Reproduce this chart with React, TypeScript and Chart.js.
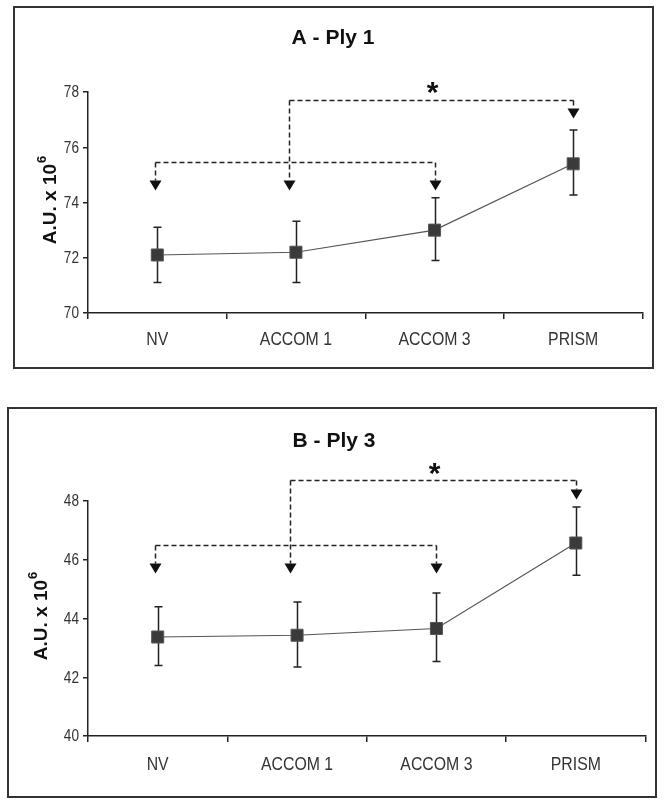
import React, { useEffect, useRef } from "react";
import { Chart, registerables } from "chart.js";

Chart.register(...registerables);

// ---------- data ----------
const categories = ["NV", "ACCOM 1", "ACCOM 3", "PRISM"];
const yTicksA = [70, 72, 74, 76, 78];
const yTicksB = [40, 42, 44, 46, 48];

const meansA = [72.1, 72.2, 73.0, 75.4];
const lowA = [71.1, 71.1, 71.9, 74.27];
const highA = [73.1, 73.32, 74.17, 76.62];

const meansB = [43.37, 43.43, 43.66, 46.57];
const lowB = [42.4, 42.35, 42.54, 45.47];
const highB = [44.4, 44.56, 44.87, 47.8];

// annotation brackets (category index positions, value levels)
const bracketIdx = { nv: -0.02, acc1: 0.95, acc3: 2.0, prism: 3.0, star: 1.98 };
const levelsA = { upper: 77.71, lower: 75.45, tips: 74.45, prismTip: 77.06, star: 78.2 };
const levelsB = { upper: 48.7, lower: 46.5, tips: 45.55, prismTip: 48.07, star: 49.15 };

const FONT = '"Liberation Sans", Arial, sans-serif';

type PanelProps = {
  title: string;
  means: number[];
  lows: number[];
  highs: number[];
  ticks: number[];
  levels: typeof levelsA;
  box: { left: number; top: number; width: number; height: number };
  pad: { left: number; right: number; top: number; bottom: number };
  titlePos: { x: number; y: number };
  labelX: number;
  xLabelOffset: number;
};

function Panel(p: PanelProps) {
  const ref = useRef<HTMLCanvasElement | null>(null);
  useEffect(() => {
    const canvas = ref.current!;
    const overlay = {
      id: "overlay",
      beforeDatasetsDraw(chart: any) {
        const ctx = chart.ctx;
        const xs = chart.scales.x;
        const ys = chart.scales.y;
        ctx.save();
        ctx.strokeStyle = "#222";
        ctx.lineWidth = 1.5;
        for (let i = 0; i < p.means.length; i++) {
          const x = Math.round(xs.getPixelForValue(i)) + 0.5;
          const y1 = ys.getPixelForValue(p.lows[i]);
          const y2 = ys.getPixelForValue(p.highs[i]);
          ctx.beginPath();
          ctx.moveTo(x, y1);
          ctx.lineTo(x, y2);
          ctx.moveTo(x - 4, y1);
          ctx.lineTo(x + 4, y1);
          ctx.moveTo(x - 4, y2);
          ctx.lineTo(x + 4, y2);
          ctx.stroke();
        }
        ctx.restore();
      },
      afterDraw(chart: any) {
        const ctx = chart.ctx;
        const xs = chart.scales.x;
        const ys = chart.scales.y;
        const area = chart.chartArea;
        const x0 = xs.getPixelForValue(0);
        const dx = xs.getPixelForValue(1) - x0;
        const px = (f: number) => Math.round(x0 + f * dx) + 0.5;
        const py = (v: number) => Math.round(ys.getPixelForValue(v)) + 0.5;
        const L = p.levels;
        const I = bracketIdx;
        ctx.save();

        // tick labels (condensed text)
        ctx.fillStyle = "#333";
        ctx.textBaseline = "middle";
        ctx.font = "18px " + FONT;
        categories.forEach((c, i) => {
          const x = xs.getPixelForValue(i);
          ctx.save();
          ctx.translate(x, area.bottom + p.xLabelOffset);
          ctx.scale(0.88, 1);
          ctx.textAlign = "center";
          ctx.fillText(c, 0, 0);
          ctx.restore();
        });
        ctx.font = "16px " + FONT;
        p.ticks.forEach((t) => {
          const y = ys.getPixelForValue(t);
          ctx.save();
          ctx.translate(area.left - 9, y + 1);
          ctx.scale(0.85, 1);
          ctx.textAlign = "right";
          ctx.fillText(String(t), 0, 0);
          ctx.restore();
        });

        ctx.strokeStyle = "#222";
        ctx.fillStyle = "#111";
        ctx.lineWidth = 1.5;
        const arrow = (x: number, yTop: number, yTip: number) => {
          const h = 10;
          ctx.setLineDash([5, 3]);
          ctx.beginPath();
          ctx.moveTo(x, yTop);
          ctx.lineTo(x, yTip - h);
          ctx.stroke();
          ctx.setLineDash([]);
          ctx.beginPath();
          ctx.moveTo(x - 6, yTip - h);
          ctx.lineTo(x + 6, yTip - h);
          ctx.lineTo(x, yTip);
          ctx.closePath();
          ctx.fill();
        };
        // lower bracket NV - ACCOM 3
        ctx.setLineDash([5, 3]);
        ctx.beginPath();
        ctx.moveTo(px(I.nv), py(L.lower));
        ctx.lineTo(px(I.acc3), py(L.lower));
        ctx.stroke();
        arrow(px(I.nv), py(L.lower), py(L.tips));
        arrow(px(I.acc3), py(L.lower), py(L.tips));
        // upper bracket ACCOM 1 - PRISM
        ctx.setLineDash([5, 3]);
        ctx.beginPath();
        ctx.moveTo(px(I.acc1), py(L.upper));
        ctx.lineTo(px(I.prism), py(L.upper));
        ctx.stroke();
        arrow(px(I.acc1), py(L.upper), py(L.tips));
        arrow(px(I.prism), py(L.upper), py(L.prismTip));
        // star
        ctx.setLineDash([]);
        ctx.font = "bold 30px " + FONT;
        ctx.textAlign = "center";
        ctx.textBaseline = "alphabetic";
        ctx.fillStyle = "#111";
        ctx.fillText("*", px(I.star), ys.getPixelForValue(L.star) + 16);

        // title
        ctx.font = "bold 21px " + FONT;
        ctx.fillStyle = "#111";
        ctx.textBaseline = "middle";
        ctx.fillText(p.title, p.titlePos.x, p.titlePos.y);

        // y label with superscript
        const cy = (area.top + area.bottom) / 2 - 2;
        ctx.translate(p.labelX, cy);
        ctx.rotate(-Math.PI / 2);
        ctx.textAlign = "left";
        ctx.textBaseline = "alphabetic";
        const main = "A.U. x 10";
        ctx.font = "bold 19px " + FONT;
        const w1 = ctx.measureText(main).width;
        ctx.font = "bold 13px " + FONT;
        const w2 = ctx.measureText("6").width;
        const start = -(w1 + w2) / 2;
        ctx.font = "bold 19px " + FONT;
        ctx.fillText(main, start, 0);
        ctx.font = "bold 13px " + FONT;
        ctx.fillText("6", start + w1 + 1, -10);
        ctx.restore();
      },
    };

    const chart = new Chart(canvas, {
      type: "line",
      data: {
        labels: categories,
        datasets: [
          {
            data: p.means,
            borderColor: "#555",
            borderWidth: 1.2,
            pointStyle: "rect",
            pointRadius: 8.5,
            pointBackgroundColor: "#3a3a3a",
            pointBorderColor: "#555",
            pointBorderWidth: 1,
            tension: 0,
          },
        ],
      },
      options: {
        responsive: false,
        animation: false,
        devicePixelRatio: 1,
        layout: { padding: p.pad },
        plugins: { legend: { display: false }, tooltip: { enabled: false }, title: { display: false } },
        scales: {
          x: {
            type: "category",
            offset: true,
            grid: { offset: true, drawOnChartArea: false, drawTicks: true, tickLength: 6, color: "#222", lineWidth: 1.5 },
            border: { color: "#222", width: 1.5 },
            ticks: { display: false },
            afterFit: (s: any) => {
              s.height = 40;
            },
          },
          y: {
            min: p.ticks[0],
            max: p.ticks[p.ticks.length - 1],
            afterBuildTicks: (s: any) => {
              s.ticks = p.ticks.map((v) => ({ value: v }));
            },
            grid: { drawOnChartArea: false, drawTicks: true, tickLength: 5, color: "#222", lineWidth: 1.5 },
            border: { color: "#222", width: 1.5 },
            ticks: { display: false },
            afterFit: (s: any) => {
              s.width = 50;
            },
          },
        },
      },
      plugins: [overlay],
    } as any);
    return () => chart.destroy();
  }, []);

  const cw = p.box.width - 4;
  const ch = p.box.height - 4;
  return (
    <div
      style={{
        position: "absolute",
        left: p.box.left,
        top: p.box.top,
        width: p.box.width,
        height: p.box.height,
        boxSizing: "border-box",
        border: "2px solid #333",
        background: "#fff",
      }}
    >
      <canvas ref={ref} width={cw} height={ch} style={{ display: "block" }} />
    </div>
  );
}

export default function App() {
  return (
    <>
      <Panel
        title="A - Ply 1"
        means={meansA}
        lows={lowA}
        highs={highA}
        ticks={yTicksA}
        levels={levelsA}
        box={{ left: 13, top: 6, width: 641, height: 363 }}
        pad={{ left: 23, right: 2, top: 84, bottom: 14 }}
        titlePos={{ x: 318, y: 30 }}
        labelX={41}
        xLabelOffset={27}
      />
      <Panel
        title="B - Ply 3"
        means={meansB}
        lows={lowB}
        highs={highB}
        ticks={yTicksB}
        levels={levelsB}
        box={{ left: 7, top: 407, width: 650, height: 391 }}
        pad={{ left: 29, right: 7, top: 92, bottom: 20 }}
        titlePos={{ x: 325, y: 32 }}
        labelX={38}
        xLabelOffset={29}
      />
    </>
  );
}
